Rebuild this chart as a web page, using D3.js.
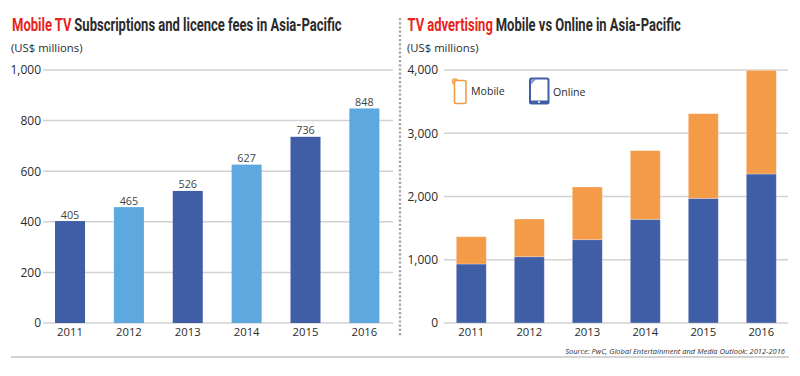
<!DOCTYPE html>
<html><head><meta charset="utf-8">
<script src="https://cdn.jsdelivr.net/npm/d3@7"></script>
<style>
html,body{margin:0;padding:0;background:#fff}
svg{display:block}
text{font-family:"Open Sans",sans-serif}
.tt{font-family:"Roboto",sans-serif;font-weight:700;font-size:18px}
.grid line{stroke:#d2d2d2;stroke-width:1.5}
</style></head><body><div id="c"></div>
<script>
const years=["2011","2012","2013","2014","2015","2016"];
const subscriptionLabels=[405,465,526,627,736,848];
const subscriptionBars=[403,458,522,626,736,848];
const online=[933,1048,1317,1639,1971,2356];
const mobile=[431,596,833,1086,1339,1639];
const leftTicks=[0,200,400,600,800,1000];
const rightTicks=[0,1000,2000,3000,4000];
const colDark="#405ea6",colLight="#5ea8e0",colOrange="#f49b48",red="#e8231a",ink="#2b2b2b";
const svg=d3.select("#c").append("svg").attr("width",800).attr("height",376);

function title(x,w,a,b){
  const t=svg.append("text").attr("class","tt").attr("transform",`translate(${x},31)`);
  t.append("tspan").attr("fill",red).text(a);
  t.append("tspan").attr("fill",ink).attr("dx",4).text(b);
  const natural=t.node().getComputedTextLength()+4;
  t.attr("transform",`translate(${x},31) scale(${w/natural},1)`);
}
title(12,330,"Mobile TV","Subscriptions and licence fees in Asia-Pacific");
title(407.5,273.5,"TV advertising","Mobile vs Online in Asia-Pacific");
svg.append("text").attr("x",11).attr("y",52).attr("font-size",11.3).attr("fill",ink).text("(US$ millions)");
svg.append("text").attr("x",407).attr("y",52).attr("font-size",11.3).attr("fill",ink).text("(US$ millions)");

function frame(x,yMax,ticks,gx0,gx1,labelX){
  const y=d3.scaleLinear().domain([0,yMax]).range([323,70]);
  const g=svg.append("g").attr("class","grid");
  g.selectAll("line").data(ticks).join("line")
    .attr("x1",gx0).attr("x2",gx1).attr("y1",d=>y(d)).attr("y2",d=>y(d));
  const ax=svg.append("g").attr("transform",`translate(${labelX},0)`)
    .call(d3.axisLeft(y).tickValues(ticks).tickSize(0).tickPadding(0).tickFormat(d3.format(",")));
  ax.select(".domain").remove();
  ax.selectAll("text").attr("font-size",12).attr("fill",ink).attr("font-family",'"Open Sans",sans-serif');
  const bx=svg.append("g").attr("transform","translate(0,323)")
    .call(d3.axisBottom(x).tickSize(0).tickPadding(4.5));
  bx.select(".domain").remove();
  bx.selectAll("text").attr("font-size",11.3).attr("fill",ink).attr("font-family",'"Open Sans",sans-serif');
  return y;
}
// left
const xL=d3.scaleBand().domain(years).range([40.6,393.8]).paddingInner(0.49).paddingOuter(0.245);
const yL=frame(xL,1000,leftTicks,43,393,41);
svg.append("g").selectAll("rect").data(subscriptionBars).join("rect")
  .attr("x",(d,i)=>xL(years[i])).attr("width",xL.bandwidth())
  .attr("y",d=>yL(d)).attr("height",d=>yL(0)-yL(d))
  .attr("fill",(d,i)=>i%2?colLight:colDark);
svg.append("g").selectAll("text").data(subscriptionLabels).join("text")
  .attr("x",(d,i)=>xL(years[i])+xL.bandwidth()/2).attr("y",(d,i)=>yL(subscriptionBars[i])-2.5)
  .attr("text-anchor","middle").attr("font-size",10.8).attr("fill","#444").text(d=>d);
// right
const xR=d3.scaleBand().domain(years).range([442.3,790.3]).paddingInner(0.483).paddingOuter(0.2414);
const yR=frame(xR,4000,rightTicks,444,788,438);
const stack=d3.stack().keys(["online","mobile"])(years.map((d,i)=>({year:d,online:online[i],mobile:mobile[i]})));
svg.append("g").selectAll("g").data(stack).join("g")
  .attr("fill",(d,i)=>i?colOrange:colDark)
  .selectAll("rect").data(d=>d).join("rect")
  .attr("x",d=>xR(d.data.year)).attr("width",xR.bandwidth())
  .attr("y",d=>yR(d[1])).attr("height",d=>yR(d[0])-yR(d[1]))
  .attr("stroke","#fff").attr("stroke-opacity",.35).attr("stroke-width",.8);
// legend
const lg=svg.append("g");
lg.append("circle").attr("cx",455).attr("cy",81.5).attr("r",3.5).attr("fill",colOrange).attr("opacity",.75);
lg.append("rect").attr("x",454.5).attr("y",80.5).attr("width",11.5).attr("height",23).attr("rx",1.5).attr("fill","#fff").attr("stroke",colOrange).attr("stroke-width",1.6);
lg.append("text").attr("x",471).attr("y",95).attr("font-size",10.6).attr("fill",ink).text("Mobile");
lg.append("rect").attr("x",530).attr("y",78.5).attr("width",18.5).attr("height",25).attr("rx",1.5).attr("fill","#fff").attr("stroke",colDark).attr("stroke-width",2);
lg.append("path").attr("d","M531 79.5h5l-5 5z").attr("fill",colDark).attr("opacity",.6);
lg.append("rect").attr("x",530).attr("y",100.5).attr("width",18.5).attr("height",3).attr("fill",colDark);
lg.append("circle").attr("cx",539).attr("cy",102).attr("r",1).attr("fill","#fff");
lg.append("text").attr("x",553).attr("y",96).attr("font-size",10.6).attr("fill",ink).text("Online");
// divider
svg.append("line").attr("x1",400).attr("x2",400).attr("y1",18).attr("y2",337)
  .attr("stroke","#a8a8a8").attr("stroke-width",2.4).attr("stroke-dasharray","2.2 2");
svg.append("line").attr("x1",11).attr("x2",789).attr("y1",357).attr("y2",357).attr("stroke","#c4c4c4").attr("stroke-width",1.4);
svg.append("text").attr("x",785).attr("y",354).attr("text-anchor","end").attr("font-size",7.5).attr("font-style","italic").attr("fill","#333").text("Source: PwC, Global Entertainment and Media Outlook: 2012-2016");
</script></body></html>
